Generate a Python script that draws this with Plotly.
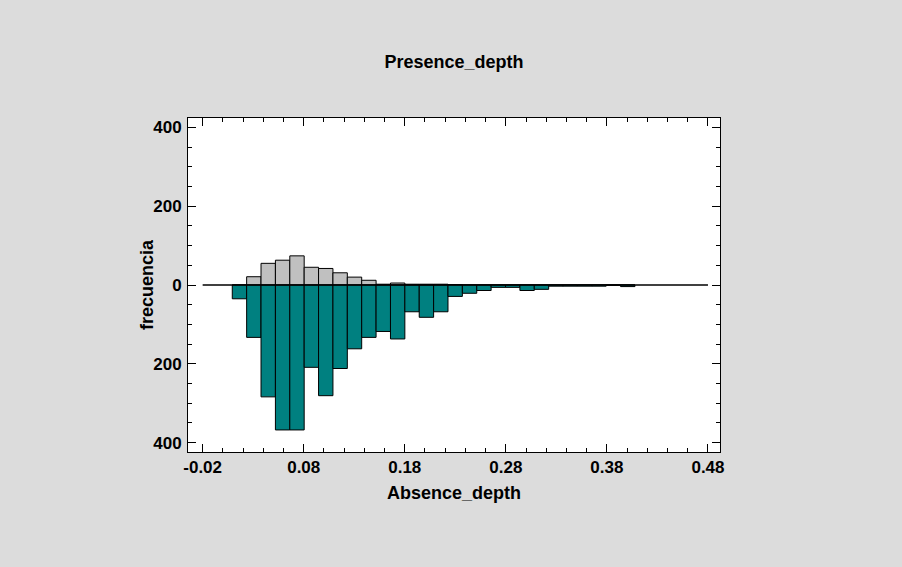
import plotly.graph_objects as go

# Histogram classes (bin centres) shared by both series
bin_centers = [0.01642, 0.03065, 0.04488, 0.05911, 0.07334, 0.08757, 0.10180,
               0.11603, 0.13026, 0.14449, 0.15872, 0.17295, 0.18718, 0.20141,
               0.21564, 0.22987, 0.24410, 0.25833, 0.27256, 0.28679, 0.30102,
               0.31525, 0.32948, 0.34371, 0.35794, 0.37217, 0.38640, 0.40063]
bin_width = 0.01423

# Frequencies: presence plotted upward, absence plotted downward
presence = [0, 21, 55, 63, 74, 45, 42, 31, 20, 12, 2, 5, 2, 2, 2, 1,
            0, 0, 0, 0, 0, 0, 0, 0, 0, 0, 0, 0]
absence = [35, 133, 284, 368, 368, 209, 281, 212, 162, 133, 118, 137, 68, 82,
           68, 29, 21, 14, 6, 6, 14, 11, 3, 3, 3, 3, 0, 4]

x_tick_vals = [-0.02, 0.08, 0.18, 0.28, 0.38, 0.48]
x_tick_text = ["-0.02", "0.08", "0.18", "0.28", "0.38", "0.48"]
y_tick_vals = [-400, -200, 0, 200, 400]
y_tick_text = ["400", "200", "0", "200", "400"]

FONT = "Liberation Sans, Arial, sans-serif"

fig = go.Figure()
fig.add_trace(go.Bar(
    x=bin_centers, y=presence, width=bin_width,
    marker=dict(color="#c0c0c0", line=dict(color="black", width=1)),
    name="Presence_depth",
))
fig.add_trace(go.Bar(
    x=bin_centers, y=[-v for v in absence], width=bin_width,
    marker=dict(color="#008080", line=dict(color="black", width=1)),
    name="Absence_depth",
))

axis_common = dict(
    showline=True, linecolor="black", linewidth=1, mirror="allticks",
    ticks="inside", ticklen=8, tickcolor="black", tickwidth=1,
    showgrid=False, zeroline=False,
    tickfont=dict(family=FONT, size=17, color="black", weight="bold"),
)

fig.update_layout(
    width=902, height=567,
    margin=dict(l=188, r=182, t=118, b=115),
    paper_bgcolor="#dcdcdc", plot_bgcolor="white",
    barmode="overlay", showlegend=False,
    font=dict(family=FONT, color="black"),
    title=dict(text="Presence_depth", x=0.5, xanchor="center",
               xref="paper", y=1 - 62 / 567, yanchor="middle",
               font=dict(family=FONT, size=18, color="black", weight="bold")),
    xaxis=dict(axis_common, range=[-0.0345, 0.4919],
               tickvals=x_tick_vals, ticktext=x_tick_text,
               minor=dict(ticks="inside", ticklen=4, tick0=-0.02, dtick=0.02,
                          tickcolor="black")),
    yaxis=dict(axis_common, range=[-424, 424],
               tickvals=y_tick_vals, ticktext=y_tick_text,
               ticklabelstandoff=2,
               minor=dict(ticks="inside", ticklen=4, tick0=0, dtick=50,
                          tickcolor="black")),
    shapes=[dict(type="line", xref="x", yref="y", x0=-0.02, x1=0.48,
                 y0=0, y1=0, line=dict(color="black", width=1.3), layer="above")],
    annotations=[
        dict(text="Absence_depth", xref="paper", yref="paper", x=0.5,
             y=(452 - 493) / 334, xanchor="center", yanchor="middle",
             showarrow=False,
             font=dict(family=FONT, size=18, color="black", weight="bold")),
        dict(text="frecuencia", xref="paper", yref="paper",
             x=(147 - 188) / 532, y=0.5, textangle=-90,
             xanchor="center", yanchor="middle", showarrow=False,
             font=dict(family=FONT, size=18, color="black", weight="bold")),
    ],
)

fig.write_html("out.html")
